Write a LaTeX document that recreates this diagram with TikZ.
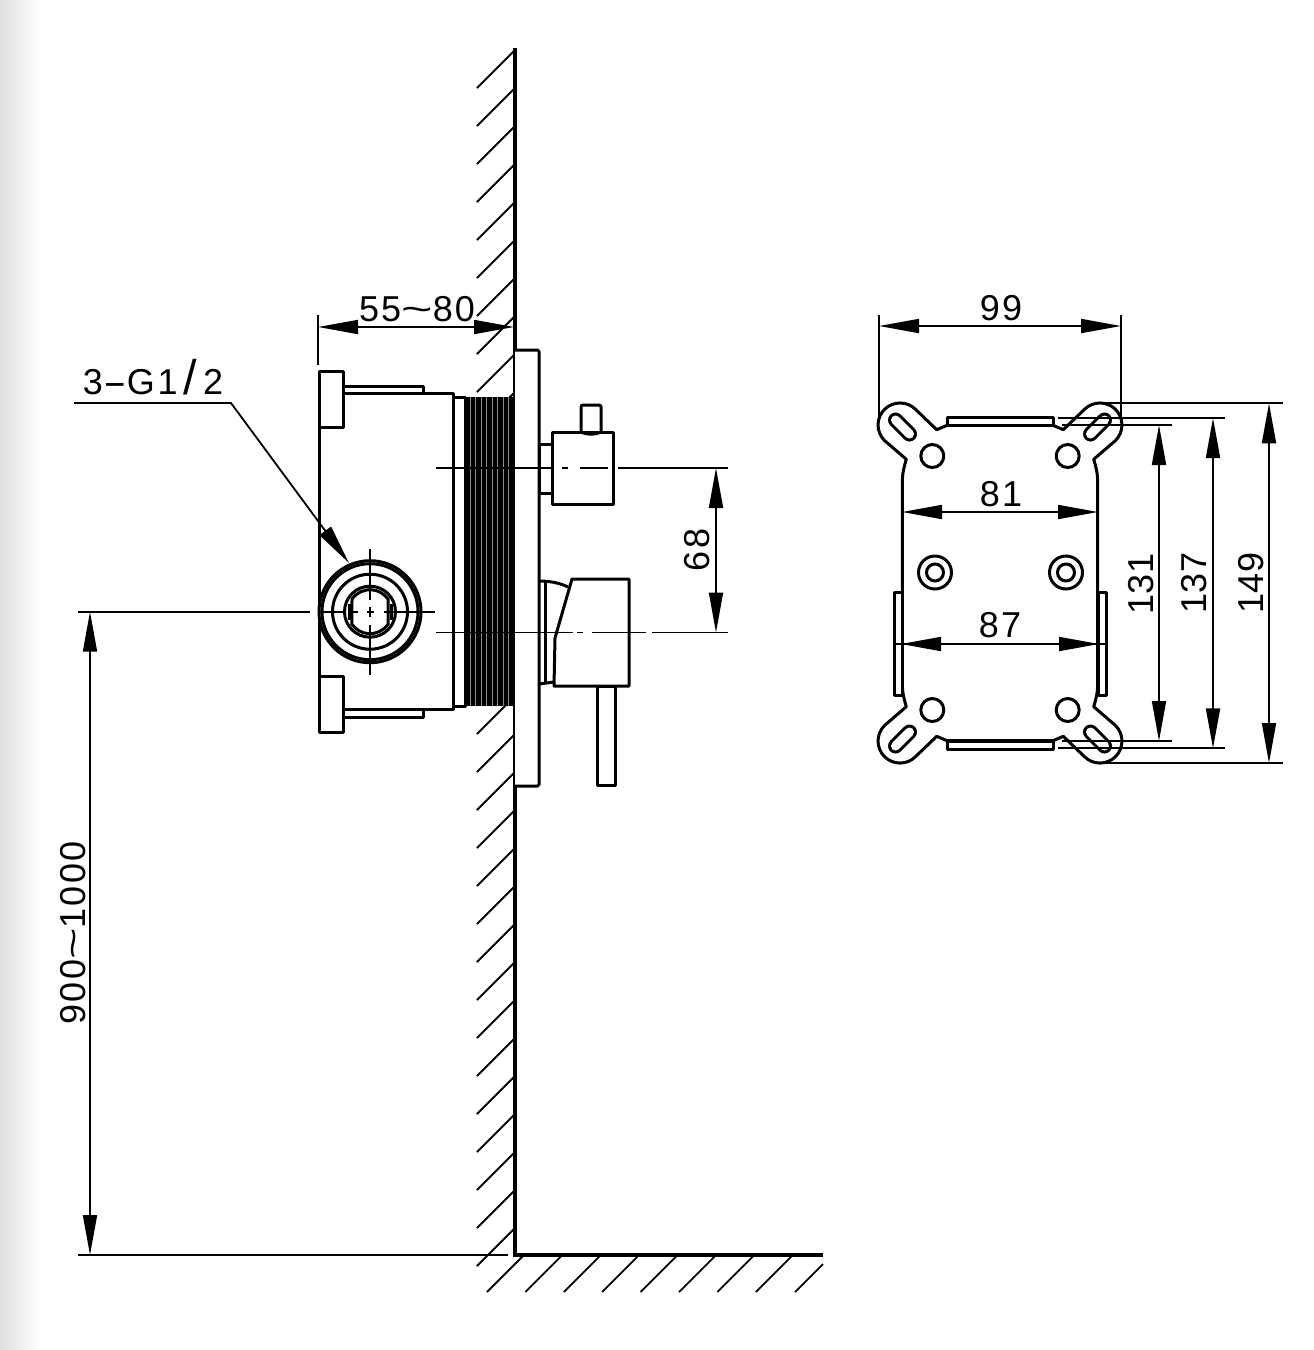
\documentclass[tikz,border=0pt]{standalone}
\usepackage{fontspec}
\usetikzlibrary{arrows.meta}
\setmainfont[LetterSpace=6]{Liberation Sans}
\newcommand{\longtilde}{\scalebox{1.5}[1]{\textasciitilde}}
\tikzset{
  partline/.style={line width=3pt, line join=round},
  hatchline/.style={line width=1.8pt},
  thinline/.style={line width=1.8pt},
  dimline/.style={line width=1.8pt, {Triangle[length=40pt,width=14pt]}-{Triangle[length=40pt,width=14pt]}},
  dimtext/.style={inner sep=0pt, font=\fontsize{36}{36}\selectfont},
  widetext/.style={inner sep=0pt, font=\fontsize{36}{36}\selectfont\addfontfeature{LetterSpace=#1}},
  ringline/.style={line width=3pt}
}
\begin{document}
\begin{tikzpicture}[x=1pt,y=-1pt]
    \useasboundingbox (0,0) rectangle (1314,1350);
    \shade[left color=black!13, right color=white] (0,0) rectangle (40,1350);

    % draw wall and floor hatching
    \foreach \y in {51,89,...,1229}
      \draw[hatchline] (514,\y) -- (477,\y+37);
    \foreach \x in {523,561.4,...,800}
      \draw[hatchline] (\x,1256) -- (\x-36,1292);
    \draw[hatchline] (823,1264) -- (795,1292);
    \draw[line width=4pt, line join=miter] (515,48) -- (515,1255) -- (823,1255);

    % draw box behind the wall
    \draw[partline,fill=white] (343,386) -- (423,386) -- (423,393) -- (343,393);
    \draw[partline,fill=white] (343,717) -- (423,717) -- (423,709) -- (343,709);
    \draw[partline,fill=white] (319,393) rectangle (453,709);
    \draw[partline,fill=white] (319,371) rectangle (343,427);
    \draw[partline,fill=white] (319,676) rectangle (343,732);
    \draw[partline,fill=white] (453,397) rectangle (465,706);

    % draw thread
    \fill[black] (465,397) rectangle (513,706);
    \foreach \x in {470,475.5,...,510}
      \draw[black!45,line width=0.5pt] (\x,397) -- (\x,706);

    % draw plate and the two handles
    \draw[partline,fill=white,rounded corners=1.5pt] (515,350) -- (539,350) -- (539,786) -- (515,786);
    \draw[partline,fill=white] (539,444) rectangle (552,493);
    \draw[partline,fill=white,rounded corners=2pt] (581,432) -- (581,405) -- (601,405) -- (601,432);
    \draw[partline,fill=white] (552,432) rectangle (613,504);
    \draw[partline] (581,432) .. controls (588,435) and (594,435) .. (601,432);
    \draw[partline] (539,581) .. controls (550,581) and (560,583) .. (568,587);
    \draw[partline] (545,582) -- (545,683);
    \draw[partline] (539,684) -- (554,682);
    \draw[partline,fill=white] (597,686) rectangle (615,785);
    \draw[partline,fill=white] (572,579) -- (629,579) -- (629,686) -- (554,686) -- (555,638) -- cycle;

    % draw rings of the connection
    \draw[ringline,fill=white] (370,611.7) circle (51);
    \draw[ringline] (370,611.7) circle (48);
    \draw[ringline] (370,611.7) circle (37.5);
    \draw[ringline] (370,611.7) circle (25.5);
    \draw[ringline] (352,599.1) arc[start angle=-145,end angle=-35,radius=22] -- (388,624.3)
      arc[start angle=35,end angle=145,radius=22] -- cycle;
    \draw[ringline] (349,604) -- (349,620);
    \draw[ringline] (391,604) -- (391,620);

    % draw center lines
    \foreach \a/\b in {78/310,318/345,352/358,367/374,384/435}
      \draw[thinline] (\a,611.7) -- (\b,611.7);
    \foreach \a/\b in {549/600,607/617,625/675}
      \draw[thinline] (370,\a) -- (370,\b);
    \foreach \a/\b in {436/552,562/568,580/608,618/728}
      \draw[thinline] (\a,468) -- (\b,468);
    \foreach \a/\b in {436/573,577/583,592/646,652/728}
      \draw[thinline] (\a,632.5) -- (\b,632.5);

    % draw dimensions of the side view
    \draw[thinline] (318,315) -- (318,365);
    \draw[dimline] (318,327) -- (514,327);
    \draw[dimline] (716,468) -- (716,632.5);
    \draw[dimline] (90,611.7) -- (90,1255);
    \draw[thinline] (78,1255) -- (508,1255);
    \draw[thinline,-{Triangle[length=40pt,width=14pt]}] (74,403) -- (231,403) -- (349,563);
    \node[dimtext] (sizetext) at (417,309) {55\longtilde 80};
    \node[widetext=8,anchor=base] (threadtext) at (153,394) {3\scalebox{2}[1]{-}G1\,\scalebox{1.35}{/}\,2};
    \node[dimtext,rotate=90] (depthtext) at (697,550) {68};
    \node[dimtext,rotate=90] (heighttext) at (73,933) {900\longtilde 1000};

    % draw mounting plate, one corner at a time
    \foreach \sx/\sy in {1/1,-1/1,1/-1,-1/-1} {
      \begin{scope}[shift={(1000,583)},xscale=\sx,yscale=\sy]
        \draw[partline] (0,-157.7) -- (-53,-157.7) -- (-63.3,-153.3) -- (-84.4,-173.6)
          arc[start angle=-45,end angle=-225,radius=22] -- (-93.7,-123.7)
          .. controls (-96,-116) and (-97.7,-110) .. (-97.7,-100) -- (-97.7,0);
        \draw[black,line width=15pt,line cap=round] (-104.5,-163) -- (-90.5,-149);
        \draw[white,line width=9pt,line cap=round] (-104.5,-163) -- (-90.5,-149);
        \draw[partline] (-67.7,-127) circle (11.5);
      \end{scope}
    }
    \draw[partline,fill=white] (947,417.5) rectangle (1053,425);
    \draw[partline,fill=white] (947,741.5) rectangle (1053,749);
    \draw[partline,fill=white] (894,592) rectangle (902,695);
    \draw[partline,fill=white] (1098,592) rectangle (1106,695);
    \foreach \x in {935,1066} {
      \draw[ringline] (\x,572.5) circle (16.5);
      \draw[ringline] (\x,572.5) circle (8.5);
    }

    % draw dimensions of the plate
    \draw[thinline] (879,315) -- (879,418);
    \draw[thinline] (1121,315) -- (1121,418);
    \draw[dimline] (879,326) -- (1121,326);
    \draw[dimline] (902,512) -- (1098,512);
    \draw[thinline] (895,644) -- (1106,644);
    \draw[dimline] (901,644) -- (1099,644);
    \foreach \xa/\ya/\xb in {1062/425/1172,1058/418/1225,1100/403.3/1283,1062/741/1172,1058/748.3/1225,1105/763/1283}
      \draw[thinline] (\xa,\ya) -- (\xb,\ya);
    \draw[dimline] (1159,425) -- (1159,741);
    \draw[dimline] (1213,418) -- (1213,748.3);
    \draw[dimline] (1269,403.3) -- (1269,763);
    \node[dimtext] (widthtext) at (1001,308.5) {99};
    \node[dimtext] (innertext) at (1001,494.5) {81};
    \node[dimtext] (outertext) at (1000,625.5) {87};
    \node[widetext=1,rotate=90] (lengthatext) at (1141,584) {131};
    \node[widetext=2,rotate=90] (lengthbtext) at (1194,583) {137};
    \node[widetext=2,rotate=90] (lengthctext) at (1251,583) {149};
\end{tikzpicture}
\end{document}
